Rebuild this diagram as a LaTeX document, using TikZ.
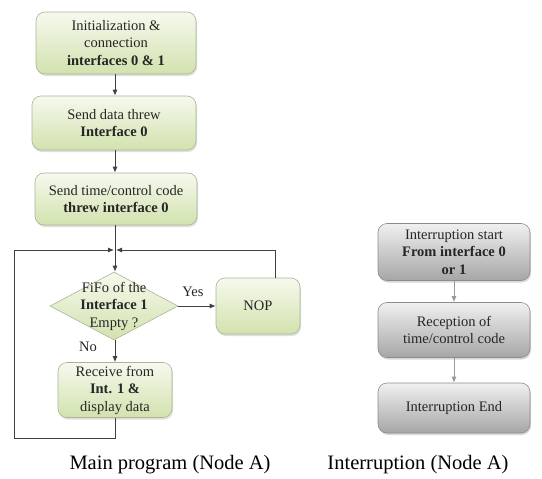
\documentclass[tikz,border=0pt]{standalone}
\usepackage{fontspec}
\setmainfont{Liberation Serif}
\usetikzlibrary{shapes.geometric,arrows.meta,shadows,calc}
\definecolor{gtop}{HTML}{F6F9EE}
\definecolor{gbot}{HTML}{D2E2AE}
\definecolor{gline}{HTML}{A9B596}
\definecolor{ktop}{HTML}{F0F0F0}
\definecolor{kbot}{HTML}{A6A6A6}
\definecolor{kline}{HTML}{8C8C8C}
\tikzset{
  boxtext/.style={font=\fontsize{14.5}{17.5}\selectfont, align=center, text=black!85},
  greenbox/.style={boxtext, draw=gline, line width=0.6pt, rounded corners=9pt,
     top color=gtop, bottom color=gbot, inner sep=2pt,
     drop shadow={opacity=0.25, shadow xshift=1pt, shadow yshift=-2pt}},
  greybox/.style={boxtext, draw=kline, line width=0.6pt, rounded corners=9pt,
     top color=ktop, bottom color=kbot, inner sep=2pt,
     drop shadow={opacity=0.3, shadow xshift=1pt, shadow yshift=-2pt}},
  decision/.style={diamond, draw=gline, line width=0.6pt, top color=gtop, bottom color=gbot,
     inner sep=0pt, minimum width=128pt, minimum height=68pt, shape aspect=1.88},
  flow/.style={draw=black!75, line width=0.9pt, -{Latex[length=6pt,width=5pt]}},
  plain/.style={draw=black!75, line width=0.9pt},
  gflow/.style={draw=black!40, line width=0.9pt, -{Latex[length=6pt,width=5pt]}},
  lbl/.style={font=\fontsize{14.5}{17.5}\selectfont, text=black!85},
  caption/.style={font=\fontsize{20.5}{24}\selectfont}
}
\begin{document}
\begin{tikzpicture}[x=1pt,y=-1pt]
\useasboundingbox (0,0) rectangle (542,479);
% main program
\node[greenbox, minimum width=160pt, minimum height=62pt] (b1) at (116,43)
  {Initialization \&\\connection\\\textbf{interfaces 0 \& 1}};
\node[greenbox, minimum width=164pt, minimum height=54pt] (b2) at (114,123)
  {Send data threw\\\textbf{Interface 0}};
\node[greenbox, minimum width=162pt, minimum height=52pt] (b3) at (116,199)
  {Send time/control code\\\textbf{threw interface 0}};
\coordinate (j) at (115,250);
\node[decision] (d) at (114,306) {};
\node[boxtext] (dt) at (d.center) {FiFo of the\\\textbf{Interface 1}\\Empty ?};
\node[greenbox, minimum width=84pt, minimum height=56pt] (nop) at (258,306) {NOP};
\node[greenbox, minimum width=114pt, minimum height=55pt] (b4) at (115,390)
  {Receive from\\\textbf{Int. 1 \&}\\display data};
\node[lbl] (yes) at (193,292) {Yes};
\node[lbl] (no) at (88,347) {No};
\coordinate (lb) at (115,438);
\coordinate (ll) at (14,438);
\coordinate (lt) at (14,250);
\coordinate (nt) at (275,250);

\draw[flow] (b1.south -| j) -- (b2.north -| j);
\draw[flow] (b2.south -| j) -- (b3.north -| j);
\draw[flow] (b3.south -| j) -- (d.north -| j);
\draw[flow] (d.east) -- (nop.west);
\draw[flow] (d.south -| j) -- (b4.north -| j);
\draw[plain] (b4.south -| j) -- (lb) -- (ll) -- (lt);
\draw[flow] (lt) -- ([xshift=-1pt]j);
\draw[plain] (nop.north -| nt) -- (nt);
\draw[flow] (nt) -- ([xshift=1pt]j);

% interruption
\node[greybox, minimum width=152pt, minimum height=57pt] (b5) at (454,252)
  {Interruption start\\\textbf{From interface 0}\\\textbf{or 1}};
\node[greybox, minimum width=152pt, minimum height=55pt] (b6) at (454,330)
  {Reception of\\time/control code};
\node[greybox, minimum width=152pt, minimum height=50pt] (b7) at (454,408)
  {Interruption End};
\draw[gflow] (b5) -- (b6);
\draw[gflow] (b6) -- (b7);

\node[caption] (c1) at (170,465) {Main program (Node A)};
\node[caption] (c2) at (418,465) {Interruption (Node A)};
\end{tikzpicture}
\end{document}
